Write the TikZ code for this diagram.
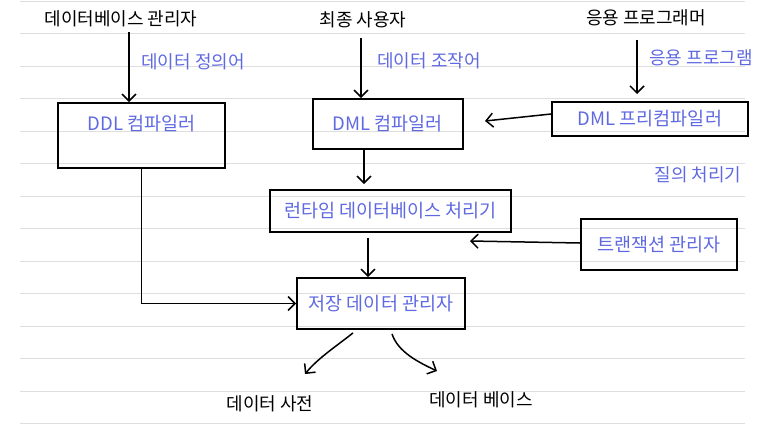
\documentclass[tikz,border=0pt]{standalone}
\usepackage{fontspec}
\setmainfont{Noto Sans CJK KR}
\usetikzlibrary{arrows.meta,calc}
\definecolor{ink}{RGB}{95,105,225}
\definecolor{ruleline}{RGB}{222,222,222}
\begin{document}
\begin{tikzpicture}[x=1pt,y=-1pt,
  lbl/.style={font=\fontsize{18}{20}\selectfont, text=black, inner sep=0pt},
  blbl/.style={font=\fontsize{18}{20}\selectfont, text=ink, inner sep=0pt},
  box/.style={draw=black, line width=1.8pt, text=ink, font=\fontsize{18.5}{20}\selectfont, inner sep=0pt},
  arr/.style={line width=1.5pt, -{Straight Barb[length=7pt,width=14pt,line width=1.5pt]}}
]
\useasboundingbox (0,0) rectangle (773,429);
\foreach \k in {0,...,13} \draw[ruleline, line width=0.8pt] (20,1+32.5*\k) -- (745,1+32.5*\k);

% top labels
\node[lbl] (dba) at (121,19) {데이터베이스 관리자};
\node[lbl] (user) at (363,20) {최종 사용자};
\node[lbl] (prog) at (646,18) {응용 프로그래머};
\node[blbl] (ddlL) at (193,62) {데이터 정의어};
\node[blbl] (dmlL) at (429,61) {데이터 조작어};
\node[blbl] (appL) at (701,58) {응용 프로그램};
\node[blbl] (query) at (698,175) {질의 처리기};

% boxes
\node[box, minimum width=167pt, minimum height=65pt, text height=13pt, text depth=23pt] (ddl) at (141.5,135.5) {DDL 컴파일러};
\node[box, minimum width=150pt, minimum height=50pt] (dmlc) at (388,124) {DML 컴파일러};
\node[box, minimum width=196pt, minimum height=34pt] (pre) at (650,119) {DML 프리컴파일러};
\node[box, minimum width=241pt, minimum height=42pt] (rt) at (390.5,211) {런타임 데이터베이스 처리기};
\node[box, minimum width=156pt, minimum height=51pt] (tm) at (659,244.5) {트랜잭션 관리자};
\node[box, minimum width=168pt, minimum height=51pt] (st) at (381,303.5) {저장 데이터 관리자};

% bottom labels
\node[lbl] (dict) at (270,404) {데이터 사전};
\node[lbl] (db) at (481,400) {데이터 베이스};

% connectors
\draw[arr] ($(dba.south -| 129,0)+(0,5)$) -- (ddl.north -| 129,0);
\draw[arr] ($(user.south -| 361,0)+(0,10)$) -- (dmlc.north -| 361,0);
\draw[arr] ($(appL.north -| 637,0)+(0,-10)$) -- (637,94);
\coordinate (preTip) at (485,121);
\draw[arr] (pre.west |- 0,114) -- (preTip);
\draw[arr] (dmlc.south -| 364,0) -- ($(rt.north -| 364,0)+(0,-5)$);
\coordinate (tmTip) at (470,241);
\draw[arr] (tm.west |- 0,243) -- (tmTip);
\draw[arr] ($(rt.south -| 368,0)+(0,5)$) -- (st.north -| 368,0);
\draw[arr] (ddl.south) |- (st.west);
\coordinate (dictTip) at (305,374);
\coordinate (dbTip) at (437,371);
\draw[arr] ($(st.south -| 353,0)+(0,3)$) .. controls (338,345) and (318,358) .. (dictTip);
\draw[arr] ($(st.south -| 392,0)+(0,4)$) .. controls (398,352) and (418,362) .. (dbTip);
\end{tikzpicture}
\end{document}
